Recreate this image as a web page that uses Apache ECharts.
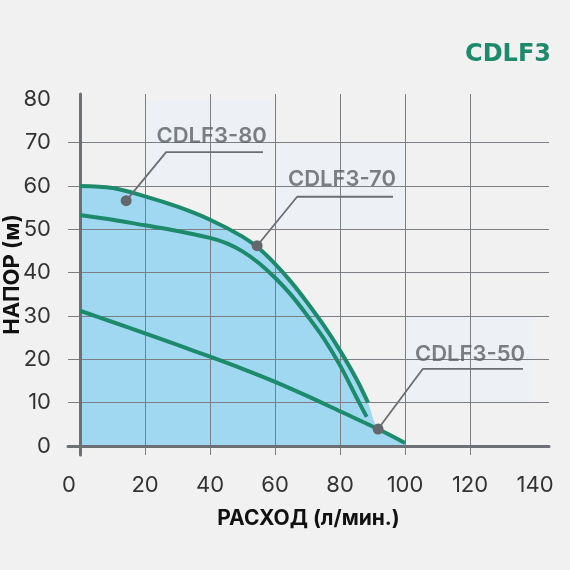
<!DOCTYPE html>
<html><head><meta charset="utf-8">
<script src="https://cdn.jsdelivr.net/npm/echarts@6/dist/echarts.min.js"></script>
<style>html,body{margin:0;padding:0;background:#f1f1f1}#c{width:570px;height:570px}</style>
</head><body><div id="c"></div>
<script>
const titleText = 'CDLF3';
const xName = 'РАСХОД (л/мин.)';
const yName = 'НАПОР (м)';
const curve80 = [[0,60],[10,59.5],[20,57.6],[30,55.2],[40,52.2],[50,48.3],[55,45.6],[60,42],[65,37.8],[70,33],[75,27.8],[80,22],[85,15.5],[88.6,10]];
const curve70 = [[0,53.3],[10,52.2],[20,50.9],[30,49.6],[40,48],[45,46.8],[50,44.9],[55,42.2],[60,38.8],[65,34.8],[70,30],[75,24.8],[80,18.6],[85,11.3],[88.2,6.7]];
const curve50 = [[0,31.2],[10,28.6],[20,26],[30,23.3],[40,20.6],[50,17.8],[60,14.8],[70,11.5],[80,8],[92,3.8],[100,0.7]];
const labelNames = ['CDLF3-80','CDLF3-70','CDLF3-50'];
const labelDots = [[14.2,56.6],[54.5,46.2],[91.7,3.9]];
const labelElbows = [[26.5,67.8],[66.8,57.5],[105.5,17.8]];
const labelEnds = [[56.3,67.8],[96.3,57.5],[136.3,17.8]];
const labelTexts = [[40.5,71.5],[80.6,61.4],[120,21.2]];
const labelBoxes = [[20,60,60,80],[60,50,100,70],[100,10,140,30]];
const xTicks = [0,20,40,60,80,100,120,140];
const yTicks = [0,10,20,30,40,50,60,70,80];

const GREEN = '#1d8a6c';
const GRID = '#7b7e82';
const AXIS = '#6c6f73';
const FONT = 'Inter';

const lastX = curve80[curve80.length-1][0];
const envelope = curve80.concat(curve50.filter(p => p[0] > lastX));

const chart = echarts.init(document.getElementById('c'));
const tickLabel = {fontSize: 22, fontFamily: FONT, color: '#333', fontWeight: 400};

const series = [
  {type:'line', data: envelope, smooth:0.35, symbol:'none', z:1, silent:true,
   lineStyle:{width:0}, areaStyle:{color:'#a0d8f2', opacity:1}},
  {type:'scatter', data: labelTexts, symbolSize:0, z:2.5, silent:true,
   markArea:{silent:true, itemStyle:{color:'#edf0f4', borderWidth:0},
     data: labelBoxes.map(b => [{xAxis:b[0]+0.3, yAxis:b[1]+0.25},{xAxis:b[2]-0.3, yAxis:b[3]-0.25}])}},
  {type:'line', data: curve80, smooth:0.35, symbol:'none', z:3, lineStyle:{color:GREEN, width:4}},
  {type:'line', data: curve70, smooth:0.35, symbol:'none', z:3, lineStyle:{color:GREEN, width:4}},
  {type:'line', data: curve50, smooth:0.3, symbol:'none', z:3, lineStyle:{color:GREEN, width:4}}
];
labelNames.forEach((n, i) => {
  series.push({type:'line', z:4, silent:true, lineStyle:{color:'#6b6e72', width:1.8},
    itemStyle:{color:'#64676b'},
    data:[{value:labelDots[i], symbol:'circle', symbolSize:11},
          {value:labelElbows[i], symbol:'none'},
          {value:labelEnds[i], symbol:'none'}]});
});
series.push({type:'scatter', z:5, silent:true, symbolSize:0,
  data: labelTexts.map((p, i) => ({name: labelNames[i], value: p})),
  label:{show:true, position:'inside', formatter:'{b}', fontSize:22, fontFamily:FONT, fontWeight:600, color:'#5d6166'}});

chart.setOption({
  backgroundColor:'#f1f1f1',
  animation:false,
  title:{text:titleText, right:14, top:38, textStyle:{fontFamily:'DejaVu Sans', fontWeight:'bold', fontSize:24, color:GREEN}},
  grid:{left:68, right:21, top:94, bottom:115, containLabel:false, outerBoundsMode:'none'},
  xAxis:{type:'value', min:-3.7, max:144.3, z:2,
    axisLine:{onZero:true, lineStyle:{color:AXIS, width:3}},
    axisTick:{show:false, customValues:xTicks},
    axisLabel:Object.assign({margin:19, customValues:xTicks,
      formatter: v => v === 0 ? '{z|0}' : String(v),
      rich:{z:Object.assign({padding:[0,22,0,0]}, tickLabel)}}, tickLabel),
    splitLine:{show:true, showMinLine:false, showMaxLine:false, lineStyle:{color:GRID, width:1}},
    name:xName, nameLocation:'middle', nameGap:53, nameMoveOverlap:false,
    nameTextStyle:{fontFamily:FONT, fontWeight:700, fontSize:21, color:'#111'}},
  yAxis:{type:'value', min:-2.08, max:81.2, z:2,
    axisLine:{show:true, onZero:true, lineStyle:{color:AXIS, width:3}},
    axisTick:{show:false, customValues:yTicks},
    axisLabel:Object.assign({margin:17, customValues:yTicks}, tickLabel),
    splitLine:{show:true, showMinLine:false, showMaxLine:false, lineStyle:{color:GRID, width:1}},
    name:yName, nameLocation:'middle', nameGap:45, nameRotate:90, nameMoveOverlap:false,
    nameTextStyle:{fontFamily:FONT, fontWeight:700, fontSize:22, color:'#111'}},
  series: series
});
</script></body></html>
